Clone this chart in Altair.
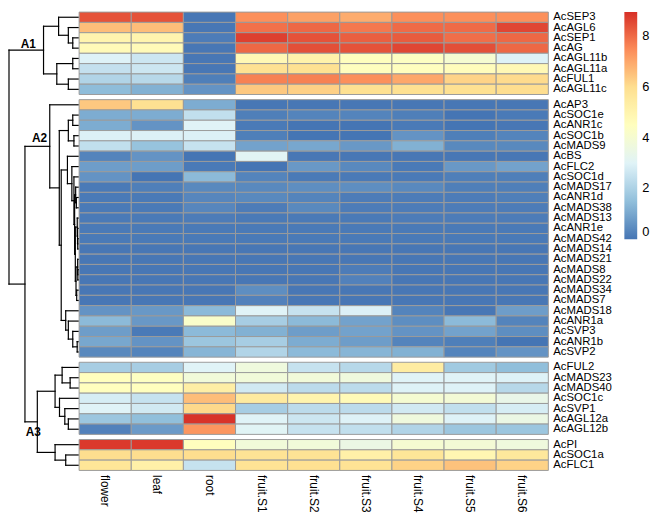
import altair as alt
import pandas as pd

samples = ["flower", "leaf", "root", "fruit.S1", "fruit.S2", "fruit.S3", "fruit.S4", "fruit.S5", "fruit.S6"]

genes_1 = ["AcSEP3", "AcAGL6", "AcSEP1", "AcAG", "AcAGL11b", "AcAGL11a", "AcFUL1", "AcAGL11c"]
values_1 = [
    [8.4, 8.4, 0.05, 7.4, 7.1, 6.9, 7.4, 7.4, 7.4],
    [6.6, 6.6, 0.05, 7.9, 8.05, 7.8, 8.0, 8.0, 8.6],
    [5.0, 5.0, 0.15, 8.7, 8.4, 8.2, 8.25, 7.95, 8.05],
    [4.7, 4.7, 0.05, 8.05, 8.45, 8.4, 8.6, 8.45, 8.05],
    [2.95, 2.6, 0.05, 4.8, 5.1, 4.5, 4.4, 4.0, 2.95],
    [2.45, 2.6, 0.05, 5.9, 5.9, 4.5, 4.5, 4.6, 4.8],
    [2.1, 2.2, 0.2, 7.65, 7.65, 7.4, 7.0, 6.2, 6.05],
    [1.45, 1.2, 0.6, 6.4, 6.25, 5.9, 5.9, 5.9, 6.0],
]

genes_2 = ["AcAP3", "AcSOC1e", "AcANR1c", "AcSOC1b", "AcMADS9", "AcBS", "AcFLC2", "AcSOC1d",
           "AcMADS17", "AcANR1d", "AcMADS38", "AcMADS13", "AcANR1e", "AcMADS42", "AcMADS14",
           "AcMADS21", "AcMADS8", "AcMADS22", "AcMADS34", "AcMADS7", "AcMADS18", "AcANR1a",
           "AcSVP3", "AcANR1b", "AcSVP2"]
values_2 = [
    [6.4, 5.9, 1.1, 0.05, 0.05, 0.05, 0.05, 0.05, 0.05],
    [1.1, 1.1, 2.4, 0.2, 0.3, 0.3, 0.2, 0.0, 0.1],
    [1.1, 0.6, 3.0, 0.1, 0.0, 0.0, 0.1, 0.0, 0.05],
    [2.9, 2.9, 2.9, 0.2, 0.0, 0.0, 0.6, 0.2, 0.3],
    [2.4, 1.6, 2.5, 0.9, 1.0, 0.7, 1.2, 0.4, 0.4],
    [0.3, 0.6, 0.0, 3.1, 0.05, 0.05, 0.05, 0.05, 0.05],
    [0.8, 0.8, 0.1, 0.0, 0.7, 0.4, 0.1, 0.7, 0.9],
    [0.6, 0.0, 1.4, 0.3, 0.1, 0.1, 0.1, 0.2, 0.2],
    [0.1, 0.2, 0.4, 0.4, 0.5, 0.5, 0.4, 0.2, 0.2],
    [0.1, 0.1, 0.35, 0.4, 0.3, 0.15, 0.15, 0.15, 0.2],
    [0.1, 0.1, 0.35, 0.15, 0.4, 0.15, 0.15, 0.15, 0.15],
    [0.1, 0.1, 0.15, 0.1, 0.1, 0.1, 0.15, 0.15, 0.15],
    [0.1, 0.1, 0.1, 0.1, 0.1, 0.1, 0.1, 0.1, 0.1],
    [0.1, 0.1, 0.1, 0.1, 0.1, 0.1, 0.1, 0.1, 0.1],
    [0.05, 0.05, 0.05, 0.05, 0.05, 0.05, 0.05, 0.05, 0.05],
    [0.05, 0.05, 0.05, 0.05, 0.05, 0.05, 0.05, 0.05, 0.05],
    [0.05, 0.05, 0.05, 0.05, 0.05, 0.15, 0.05, 0.05, 0.05],
    [0.05, 0.05, 0.05, 0.05, 0.05, 0.25, 0.05, 0.05, 0.05],
    [0.05, 0.05, 0.05, 0.5, 0.05, 0.05, 0.05, 0.05, 0.05],
    [0.05, 0.05, 0.05, 0.25, 0.05, 0.05, 0.05, 0.05, 0.05],
    [0.6, 0.7, 1.4, 3.0, 2.5, 2.9, 0.3, 0.05, 0.8],
    [1.4, 0.7, 4.2, 1.9, 1.4, 0.9, 0.5, 1.4, 0.3],
    [0.8, 0.1, 1.4, 1.2, 0.8, 0.9, 0.6, 0.9, 0.5],
    [1.0, 0.6, 1.7, 1.9, 1.1, 0.8, 0.3, 0.2, 0.0],
    [0.4, 0.3, 1.3, 2.1, 1.4, 1.3, 1.2, 0.3, 0.6],
]

genes_3 = ["AcFUL2", "AcMADS23", "AcMADS40", "AcSOC1c", "AcSVP1", "AcAGL12a", "AcAGL12b"]
values_3 = [
    [1.9, 1.9, 3.0, 3.7, 2.5, 2.2, 5.4, 1.8, 1.5],
    [4.5, 4.4, 3.8, 3.8, 3.8, 3.7, 3.0, 3.0, 2.95],
    [4.5, 4.5, 5.3, 2.7, 2.3, 2.3, 2.95, 2.95, 2.2],
    [2.8, 2.5, 6.6, 5.5, 5.0, 4.7, 4.0, 3.9, 3.4],
    [3.0, 2.7, 6.1, 1.9, 2.3, 2.3, 2.7, 2.4, 2.8],
    [1.7, 1.5, 8.9, 3.0, 2.6, 2.95, 3.7, 2.95, 3.5],
    [0.25, 0.75, 7.3, 3.05, 2.5, 2.4, 2.1, 1.7, 1.7],
]

genes_4 = ["AcPI", "AcSOC1a", "AcFLC1"]
values_4 = [
    [8.8, 8.8, 4.5, 3.8, 3.8, 3.5, 4.0, 3.9, 3.7],
    [6.0, 6.0, 6.0, 5.8, 5.8, 5.2, 5.7, 4.9, 5.6],
    [5.7, 5.2, 2.5, 5.8, 5.9, 5.8, 6.2, 6.5, 6.2],
]

# hierarchical clustering tree: [merge height (root = 1), left, right, optional cluster label]
tree_D = [0.05,
          [0.035, "AcMADS17", [0.025, "AcANR1d", "AcMADS38"]],
          [0.04,
           [0.012, "AcMADS13", [0.008, "AcANR1e", [0.005, "AcMADS42", "AcMADS14"]]],
           [0.03, [0.006, "AcMADS21", [0.004, "AcMADS8", "AcMADS22"]], [0.02, "AcMADS34", "AcMADS7"]]]]
tree_A1 = [0.5,
           [0.282, "AcSEP3", [0.141, "AcAGL6", [0.077, "AcSEP1", "AcAG"]]],
           [0.308, [0.077, "AcAGL11b", "AcAGL11a"], [0.141, "AcFUL1", "AcAGL11c"]],
           "A1"]
tree_A2 = [0.41, "AcAP3",
           [0.272,
            [0.141, [0.077, "AcSOC1e", "AcANR1c"], [0.06, "AcSOC1b", "AcMADS9"]],
            [0.244,
             [0.154, "AcBS", [0.09, "AcFLC2", [0.06, "AcSOC1d", tree_D]]],
             [0.179, "AcMADS18", [0.141, "AcANR1a", [0.077, "AcSVP3", [0.013, "AcANR1b", "AcSVP2"]]]]]],
           "A2"]
tree_A3 = [0.59,
           [0.333,
            [0.231, "AcFUL2", [0.115, "AcMADS23", "AcMADS40"]],
            [0.269, "AcSOC1c", [0.192, "AcSVP1", [0.141, "AcAGL12a", "AcAGL12b"]]]],
           [0.333, "AcPI", [0.179, "AcSOC1a", "AcFLC1"]],
           "A3"]
tree = [1.0, tree_A1, [0.769, tree_A2, tree_A3]]

palette = ["#4575B4", "#91BFDB", "#E0F3F8", "#FFFFBF", "#FEE090", "#FC8D59", "#D73027"]
vmax = 8.95
label_font = "Liberation Sans"

# ---- build tables ----
gap = 0.5
cells, rowlabels, ypos = [], [], {}
y = 0.0
for genes, vals in [(genes_1, values_1), (genes_2, values_2), (genes_3, values_3), (genes_4, values_4)]:
    for g, row in zip(genes, vals):
        ypos[g] = y + 0.5
        rowlabels.append({"gene": g, "x": 9.095, "y": y + 0.5})
        for ci, (s, v) in enumerate(zip(samples, row)):
            cells.append({"gene": g, "sample": s, "x": ci, "x2": ci + 1, "y": y, "y2": y + 1, "value": v})
        y += 1
    y += gap
total = y - gap
collabels = [{"sample": s, "x": i + 0.5, "y": total + 0.45} for i, s in enumerate(samples)]

LEAF_X, SPAN = -0.02, 1.325
label_dy = {"A1": -0.55, "A2": -0.85, "A3": 0.95}
segs, clabels = [], []


def hx(h):
    return LEAF_X - h * SPAN


def walk(node, parent_x=None):
    if isinstance(node, str):
        return hx(0), ypos[node]
    nx = hx(node[0])
    lx, ly = walk(node[1], nx)
    rx, ry = walk(node[2], nx)
    segs.append({"x": nx, "x2": nx, "y": ly, "y2": ry})
    segs.append({"x": nx, "x2": lx, "y": ly, "y2": ly})
    segs.append({"x": nx, "x2": rx, "y": ry, "y2": ry})
    ny = (ly + ry) / 2
    if len(node) > 3:
        clabels.append({"label": node[3], "x": (parent_x + nx) / 2 + 0.04, "y": ny + label_dy[node[3]]})
    return nx, ny


walk(tree)

W, H = 654, 508
unit = 464 / total
xs = alt.Scale(domain=[-72 / 52.78, (W - 72) / 52.78], nice=False, zero=False)
ys = alt.Scale(domain=[0, H / unit], nice=False, zero=False, reverse=True)

n = len(palette)
cscale = alt.Scale(domain=[vmax * i / (n - 1) for i in range(n)], range=palette, interpolate="rgb")

heat = alt.Chart(pd.DataFrame(cells)).mark_rect(stroke="#9a9a9a", strokeWidth=1).encode(
    x=alt.X("x:Q", scale=xs, axis=None),
    x2="x2:Q",
    y=alt.Y("y:Q", scale=ys, axis=None),
    y2="y2:Q",
    color=alt.Color("value:Q", scale=cscale,
                    legend=alt.Legend(title=None, orient="none", legendX=624, legendY=0,
                                      direction="vertical", gradientLength=230, gradientThickness=13,
                                      gradientStrokeWidth=0, values=[0, 2, 4, 6, 8],
                                      labelFontSize=13, labelFont=label_font, labelColor="black",
                                      labelOffset=5)),
)

rtext = alt.Chart(pd.DataFrame(rowlabels)).mark_text(
    align="left", baseline="middle", fontSize=11.5, font=label_font, color="black").encode(
    x=alt.X("x:Q", scale=xs, axis=None), y=alt.Y("y:Q", scale=ys, axis=None), text="gene:N")

ctext = alt.Chart(pd.DataFrame(collabels)).mark_text(
    align="left", baseline="middle", angle=90, fontSize=12, font=label_font, color="black").encode(
    x=alt.X("x:Q", scale=xs, axis=None), y=alt.Y("y:Q", scale=ys, axis=None), text="sample:N")

dendro = alt.Chart(pd.DataFrame(segs)).mark_rule(color="black", strokeWidth=1.2, strokeCap="square").encode(
    x=alt.X("x:Q", scale=xs, axis=None), x2="x2:Q",
    y=alt.Y("y:Q", scale=ys, axis=None), y2="y2:Q")

cltext = alt.Chart(pd.DataFrame(clabels)).mark_text(
    align="center", baseline="middle", fontSize=12, fontWeight="bold", font=label_font, color="black").encode(
    x=alt.X("x:Q", scale=xs, axis=None), y=alt.Y("y:Q", scale=ys, axis=None), text="label:N")

chart = alt.layer(heat, dendro, rtext, ctext, cltext).properties(
    width=W, height=H, padding=0, background="white"
).configure_view(stroke=None)

chart.save("out.html", embed_options={"renderer": "svg", "actions": False})
